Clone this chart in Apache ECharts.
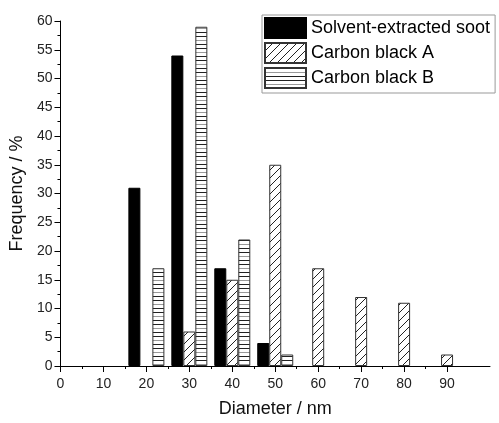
<!DOCTYPE html>
<html>
<head>
<meta charset="utf-8">
<script src="https://cdn.jsdelivr.net/npm/echarts@6/dist/echarts.min.js"></script>
<style>
  html, body { margin: 0; background: #fff; }
  #chart { width: 499px; height: 423px; }
</style>
</head>
<body>
<div id="chart"></div>
<script>
// particle diameter histograms (nm, %)
const sootX = [20, 30, 40, 50];
const sootY = [31, 54, 17, 4];
const blackAX = [30, 40, 50, 60, 70, 80, 90];
const blackAY = [6, 15, 35, 17, 12, 11, 2];
const blackBX = [20, 30, 40, 50];
const blackBY = [17, 59, 22, 2];
const xTicks = [0, 10, 20, 30, 40, 50, 60, 70, 80, 90];
const xMinorTicks = [5, 15, 25, 35, 45, 55, 65, 75, 85];

const FONT = "'Liberation Sans', Arial, sans-serif";

function hatch(draw, w, h) {
  const c = document.createElement("canvas");
  c.width = w; c.height = h;
  const ctx = c.getContext("2d");
  ctx.fillStyle = "#fff";
  ctx.fillRect(0, 0, w, h);
  ctx.strokeStyle = "#222";
  ctx.lineWidth = 1;
  draw(ctx);
  return { image: c, repeat: "repeat" };
}

const diagonal = hatch(ctx => {
  ctx.beginPath();
  ctx.moveTo(0, 8); ctx.lineTo(8, 0);
  ctx.moveTo(-1, 1); ctx.lineTo(1, -1);
  ctx.moveTo(7, 9); ctx.lineTo(9, 7);
  ctx.stroke();
}, 8, 8);

const horizontal = hatch(ctx => {
  ctx.beginPath();
  ctx.moveTo(0, 0.5); ctx.lineTo(12, 0.5);
  ctx.moveTo(0, 8.5); ctx.lineTo(12, 8.5);
  ctx.stroke();
  ctx.strokeStyle = "#999";
  ctx.beginPath();
  ctx.moveTo(0, 4.5); ctx.lineTo(12, 4.5);
  ctx.stroke();
}, 12, 12);

const pairs = (xs, ys) => xs.map((x, i) => [x, ys[i]]);

const chart = echarts.init(document.getElementById("chart"));
chart.setOption({
  animation: false,
  grid: { left: 57, right: 9, top: 21, bottom: 55 },
  legend: {
    orient: "vertical",
    left: 262, top: 15,
    itemWidth: 41, itemHeight: 20, itemGap: 3,
    padding: [2, 5, 4, 2],
    borderColor: "#999", borderWidth: 1,
    icon: "rect",
    textStyle: { fontSize: 18, fontFamily: FONT, color: "#000" },
    data: ["Solvent-extracted soot", "Carbon black A", "Carbon black B"]
  },
  xAxis: [{
    type: "value", min: 0, max: 100,
    name: "Diameter / nm", nameLocation: "middle", nameGap: 34,
    nameTextStyle: { fontSize: 18, fontFamily: FONT, color: "#111" },
    axisLine: { lineStyle: { color: "#000", width: 1 } },
    axisTick: { customValues: xTicks, length: 6, lineStyle: { color: "#000" } },
    axisLabel: { customValues: xTicks, fontSize: 14, fontFamily: FONT, color: "#222", margin: 11 },
    splitLine: { show: false }
  }, {
    type: "value", min: 0, max: 100, position: "bottom",
    axisLine: { show: false },
    axisTick: { customValues: xMinorTicks, length: 3, lineStyle: { color: "#000" } },
    axisLabel: { show: false },
    splitLine: { show: false }
  }],
  yAxis: {
    type: "value", min: 0, max: 60, interval: 5,
    name: "Frequency / %", nameLocation: "middle", nameGap: 31,
    nameTextStyle: { fontSize: 18, fontFamily: FONT, color: "#111" },
    axisLine: { show: true, lineStyle: { color: "#000", width: 1 } },
    axisTick: { show: true, length: 6, lineStyle: { color: "#000" } },
    minorTick: { show: true, splitNumber: 2, length: 3, lineStyle: { color: "#000" } },
    axisLabel: { fontSize: 14, fontFamily: FONT, color: "#222", margin: 8 },
    splitLine: { show: false }
  },
  series: [{
    name: "Solvent-extracted soot", type: "bar", xAxisIndex: 0,
    barWidth: 12, barGap: "0%",
    itemStyle: { color: "#000", borderColor: "#000", borderWidth: 1 },
    data: pairs(sootX, sootY)
  }, {
    name: "Carbon black A", type: "bar", xAxisIndex: 0,
    barWidth: 12, barGap: "0%",
    itemStyle: { color: diagonal, borderColor: "#333", borderWidth: 1 },
    data: pairs(blackAX, blackAY)
  }, {
    name: "Carbon black B", type: "bar", xAxisIndex: 0,
    barWidth: 12, barGap: "0%",
    itemStyle: { color: horizontal, borderColor: "#333", borderWidth: 1 },
    data: pairs(blackBX, blackBY)
  }]
});
</script>
</body>
</html>
